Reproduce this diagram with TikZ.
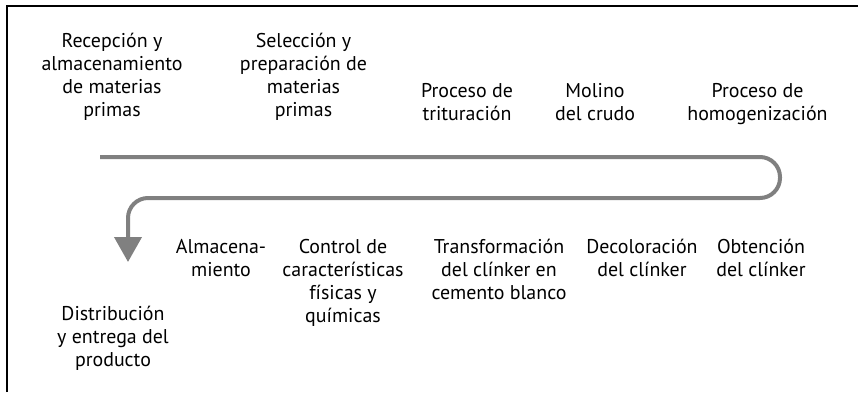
\documentclass[tikz,border=0pt]{standalone}
\usepackage{fontspec}
\setmainfont{PT Sans}
\usetikzlibrary{arrows.meta,positioning}
\definecolor{flowgray}{RGB}{128,128,128}

\begin{document}
\begin{tikzpicture}[x=1bp,y=-1bp]
  \tikzset{StepText/.style = {align          = center,
                              anchor         = base,
                              inner sep      = 0pt,
                              outer sep      = 0pt,
                              text           = black,
                              font           = \fontsize{20}{23}\selectfont},
           FlowLine/.style = {draw=flowgray, line width=4bp, rounded corners=20bp,
                              -{Triangle[width=27bp,length=25bp]}}}
  \useasboundingbox (0,0) rectangle (858,392);
  %%% MARCO %%%
  \draw[line width=1.3bp] (7,392) -- (7,6) -- (858,6);
  %%% FILA DE ARRIBA %%%
  % anchor base = baseline of the last line
  \node[StepText](recep) at (112,116){Recepción y\\almacenamiento\\de materias\\primas};
  \node[StepText](selec) at (303.5,116){Selección y\\preparación de\\materias\\primas};
  \node[StepText](tritu) at (467,120){Proceso de\\trituración};
  \node[StepText](molino) at (595,120){Molino\\del crudo};
  \node[StepText](homog) at (757.5,120){Proceso de\\homogenización};
  %%% FILA DE ABAJO %%%
  \node[StepText](obten) at (761,276){Obtención\\del clínker};
  \node[StepText](decol) at (642,276){Decoloración\\del clínker};
  \node[StepText](transf) at (499,299){Transformación\\del clínker en\\cemento blanco};
  \node[StepText](control) at (343,322){Control de\\características\\físicas y\\químicas};
  \node[StepText](almac) at (221,276){Almacena-\\miento};
  \node[StepText](distrib) at (113,366){Distribución\\y entrega del\\producto};
  %%% FLECHA %%%
  \coordinate (flowstart) at (100,157);
  \coordinate (flowend) at (128,262);
  \draw[FlowLine](flowstart) -- (780,157) -- (780,198) -- (flowend |- 0,198) -- (flowend);
\end{tikzpicture}
\end{document}
